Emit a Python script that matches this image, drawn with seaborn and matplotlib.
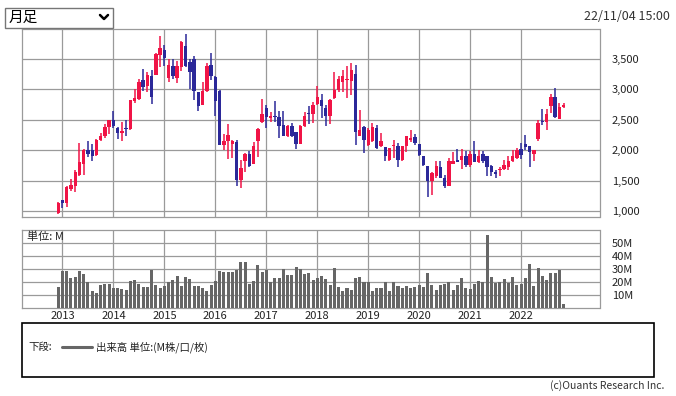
import numpy as np
import pandas as pd
import matplotlib
matplotlib.use("Agg")
import matplotlib.pyplot as plt
import seaborn as sns
from matplotlib.lines import Line2D
from matplotlib.patches import Rectangle

# === Monthly OHLC, Dec 2012 - Nov 2022 ===
months = pd.period_range("2012-12", "2022-11", freq="M")

open_ = [978, 1186, 1142, 1367, 1422, 1592, 1767, 1997, 2008, 1915, 2162, 2238, 2375,
         2501, 2370, 2277, 2370, 2343, 2814, 2847, 3159, 3060, 3225, 3241, 3570,
         3652, 3192, 3389, 3192, 3362, 3718, 3444, 3499, 2951, 2748, 2967, 3406,
         3208, 2978, 2080, 2145, 2107, 2140, 1515, 1817, 1943, 1778, 2156, 2458,
         2693, 2534, 2567, 2545, 2419, 2238, 2392, 2293, 2107, 2392, 2600, 2594,
         2765, 2830, 2693, 2556, 2858, 2995, 3115, 3148, 3132, 3258, 2238, 2375,
         2091, 2145, 2364, 2063, 2052, 1833, 2063, 2063, 1833, 2063, 2173, 2217,
         2107, 1899, 1745, 1488, 1570, 1723, 1543, 1422, 1778, 1844, 1833, 1910,
         1762, 1943, 1806, 1943, 1910, 1745, 1652, 1669, 1701, 1718, 1827, 1871,
         2025, 2107, 2074, 1943, 2189, 2474, 2458, 2732, 2874, 2518, 2710]
high = [1148, 1190, 1416, 1526, 1680, 2123, 2019, 2156, 2107, 2180, 2282, 2436, 2505,
        2649, 2375, 2469, 2501, 2830, 3006, 3176, 3340, 3285, 3318, 3600, 3882,
        3729, 3499, 3499, 3466, 3800, 3915, 3499, 3554, 2960, 3126, 3439, 3598,
        3215, 2995, 2271, 2436, 2173, 2173, 1833, 1950, 1981, 2129, 2360, 2841,
        2748, 2622, 2803, 2638, 2638, 2419, 2447, 2300, 2410, 2622, 2732, 2786,
        3060, 2929, 2748, 2835, 3280, 3225, 3324, 3389, 3433, 3406, 2655, 2392,
        2364, 2447, 2414, 2282, 2055, 2040, 2173, 2118, 2074, 2238, 2326, 2271,
        2110, 1902, 1748, 1636, 1817, 1817, 1597, 1871, 1975, 2025, 2025, 1981,
        1981, 2156, 2008, 1981, 1913, 1762, 1669, 1734, 1844, 1910, 2008, 2036,
        2118, 2255, 2077, 2011, 2502, 2682, 2682, 2929, 3022, 2776, 2776]
low = [962, 1060, 1077, 1334, 1323, 1580, 1597, 1882, 1827, 1910, 2145, 2200, 2271,
       2359, 2189, 2145, 2228, 2340, 2776, 2830, 2973, 2962, 2754, 3235, 3362,
       3378, 3115, 3176, 3104, 3296, 3370, 3006, 2830, 2649, 2737, 2960, 3148,
       2556, 2085, 1997, 1855, 1871, 1422, 1373, 1652, 1734, 1770, 1882, 2450,
       2359, 2458, 2469, 2195, 2228, 2217, 2217, 2025, 2100, 2385, 2436, 2447,
       2748, 2529, 2392, 2436, 2847, 2951, 2951, 2858, 2913, 2091, 2228, 1953,
       2074, 2140, 2025, 2058, 1827, 1817, 1871, 1718, 1828, 1964, 2129, 2091,
       1910, 1745, 1241, 1269, 1543, 1540, 1389, 1406, 1775, 1800, 1701, 1718,
       1734, 1803, 1789, 1789, 1570, 1570, 1553, 1586, 1680, 1669, 1806, 1860,
       1860, 2008, 1734, 1817, 2156, 2419, 2326, 2611, 2529, 2515, 2693]
close = [1137, 1142, 1400, 1433, 1647, 1811, 1997, 1943, 1899, 2173, 2238, 2381, 2501,
         2392, 2277, 2321, 2343, 2819, 2863, 3126, 3039, 3236, 2869, 3587, 3680,
         3521, 3406, 3225, 3389, 3784, 3378, 3280, 2978, 2721, 2978, 3378, 3214,
         2803, 2091, 2156, 2255, 2156, 1515, 1712, 1943, 1745, 2074, 2354, 2600,
         2540, 2556, 2545, 2403, 2238, 2403, 2228, 2101, 2403, 2567, 2589, 2748,
         2874, 2721, 2556, 2830, 2995, 3170, 3225, 3170, 3324, 2293, 2337, 2173,
         2337, 2375, 2036, 2156, 1899, 2036, 2091, 1833, 2063, 2228, 2200, 2118,
         1926, 1762, 1504, 1625, 1745, 1543, 1406, 1827, 1827, 1806, 1899, 1751,
         1943, 1806, 1910, 1817, 1723, 1636, 1608, 1701, 1762, 1817, 1899, 2008,
         1926, 2052, 1964, 2008, 2447, 2458, 2600, 2874, 2545, 2710, 2743]

# volume in millions
volume = [16.2,
          28.6, 28.6, 23.2, 24.0, 28.6, 26.3, 19.8, 13.1, 11.6, 17.8, 18.6, 18.6,
          15.5, 15.5, 14.7, 13.9, 20.9, 21.6, 18.6, 16.2, 16.2, 29.6, 17.8, 15.5,
          17.0, 20.1, 21.6, 24.7, 17.0, 24.0, 22.4, 17.0, 17.0, 15.5, 13.1, 17.8,
          20.9, 28.6, 27.8, 27.8, 27.8, 29.6, 35.8, 35.8, 18.6, 20.9, 33.5, 27.8,
          29.6, 20.1, 23.2, 23.2, 30.2, 25.5, 25.5, 31.7, 30.2, 26.3, 27.1, 21.6,
          23.2, 24.7, 22.4, 17.8, 30.9, 16.2, 13.1, 15.5, 13.9, 23.2, 24.0, 19.8,
          19.8, 13.1, 15.5, 15.5, 19.8, 13.1, 19.8, 17.0, 15.5, 17.0, 15.5, 16.2,
          17.8, 16.2, 27.1, 17.8, 13.9, 17.8, 18.6, 20.1, 13.9, 17.8, 23.2, 15.5,
          14.7, 18.6, 20.9, 20.1, 56.4, 24.0, 19.3, 19.8, 22.4, 19.3, 24.0, 17.8,
          18.6, 23.2, 34.0, 17.0, 30.9, 24.7, 21.6, 27.1, 27.1, 29.4, 3.1]

price_ticks = [1000, 1500, 2000, 2500, 3000, 3500]
vol_ticks = [10, 20, 30, 40, 50]

df = pd.DataFrame({"month": months, "open": open_, "high": high,
                   "low": low, "close": close, "volume": volume})
df["x"] = np.arange(len(df))
df["up"] = df["close"] >= df["open"]

RED = "#f01446"
BLUE = "#2b2899"
GRID = "#9a9a9a"

sns.set_theme(style="white")
plt.rcParams['font.family'] = ['Noto Sans CJK JP', 'DejaVu Sans']

W, H = 676, 396
fig = plt.figure(figsize=(W / 100, H / 100), dpi=100)


def px(x0, y0, x1, y1):
    return [x0 / W, 1 - y1 / H, (x1 - x0) / W, (y1 - y0) / H]


ax = fig.add_axes(px(21.7, 28.5, 599.5, 217.3))
axv = fig.add_axes(px(21.7, 230.3, 599.5, 308))

jan = df.loc[df["month"].dt.month == 1, "x"].values
years = [str(p.year) for p in df.loc[df["month"].dt.month == 1, "month"]]

# === candles ===
cols = np.where(df["up"], RED, BLUE)
ax.vlines(df["x"], df["low"], df["high"], colors=cols, lw=1.1, zorder=3)
body_lo = np.minimum(df["open"], df["close"])
body_h = np.maximum((df["close"] - df["open"]).abs(), 18)
ax.bar(df["x"], body_h, bottom=body_lo, width=0.8, color=cols, linewidth=0, zorder=4)

ax.set_xlim(-8.6, 127.45)
ax.set_ylim(900, 4000)
ax.set_xticks(jan)
ax.set_xticklabels([])
ax.set_yticks(price_ticks)
ax.set_yticklabels([f"{v:,}" for v in price_ticks])

# === volume ===
sns.barplot(x=df["x"], y=df["volume"], native_scale=True, color="#666666",
            saturation=1, width=0.72, errorbar=None, linewidth=0, ax=axv, zorder=3)
axv.set_xlim(-8.6, 127.45)
axv.set_ylim(0, 60)
axv.set_xticks(jan)
axv.set_xticklabels(years)
axv.set_yticks(vol_ticks)
axv.set_yticklabels([f"{v}M" for v in vol_ticks])
axv.set_xlabel("")
axv.set_ylabel("")

for a in (ax, axv):
    a.yaxis.tick_right()
    a.grid(True, color=GRID, lw=0.9, zorder=0)
    a.set_axisbelow(True)
    for s in a.spines.values():
        s.set_color(GRID)
        s.set_linewidth(0.9)
    a.tick_params(axis="y", length=0, pad=9, labelsize=8, labelcolor="#222222")
    a.tick_params(axis="x", length=0, pad=2, labelsize=8, labelcolor="#222222")

fig.text(27 / W, 1 - 237 / H, "単位: M", fontsize=8, va="center", color="#222222")

# === header ===
fig.patches.append(Rectangle((5 / W, 1 - 28 / H), 108 / W, 20 / H, transform=fig.transFigure,
                             facecolor="white", edgecolor="#767676", lw=1))
fig.text(9 / W, 1 - 18 / H, "月足", fontsize=10.5, va="center", color="#000000")
fig.lines.append(Line2D([100 / W, 104 / W, 108 / W], [1 - 15 / H, 1 - 19 / H, 1 - 15 / H],
                        transform=fig.transFigure, color="black", lw=1.8))
fig.text(670 / W, 1 - 17 / H, "22/11/04 15:00", fontsize=9, ha="right", va="center",
         color="#333333")

# === legend box ===
fig.patches.append(Rectangle((22 / W, 1 - 377 / H), 632 / W, 54 / H, transform=fig.transFigure,
                             facecolor="none", edgecolor="black", lw=1.2))
fig.text(28 / W, 1 - 347 / H, "下段:", fontsize=7.5, va="center", color="#222222")
fig.lines.append(Line2D([62 / W, 92 / W], [1 - 347 / H, 1 - 347 / H],
                        transform=fig.transFigure, color="#666666", lw=2.2))
fig.text(96 / W, 1 - 347 / H, "出来高 単位:(M株/口/枚)", fontsize=7.5, va="center",
         color="#222222")
fig.text(664 / W, 1 - 386 / H, "(c)Ouants Research Inc.", fontsize=7.5, ha="right",
         va="center", color="#333333")

fig.savefig("out.png", dpi=100, facecolor="white")
